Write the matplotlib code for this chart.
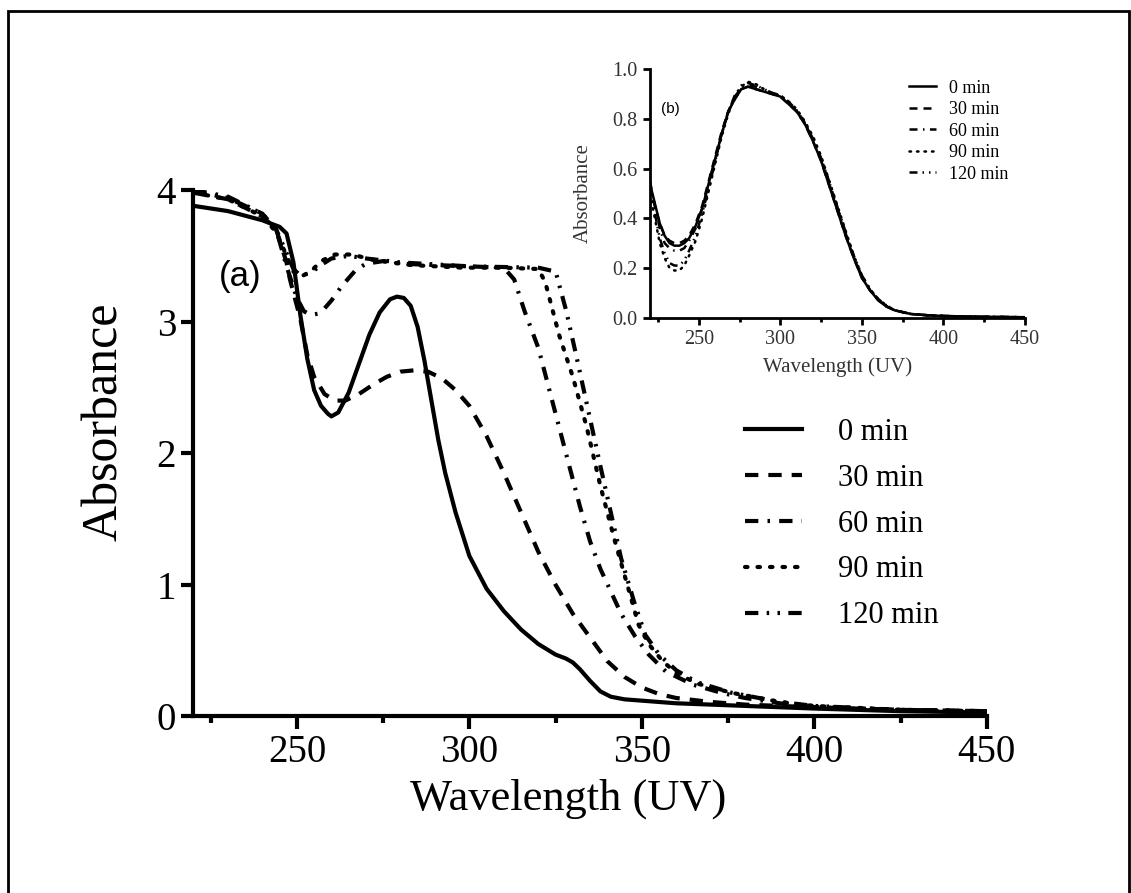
import matplotlib.pyplot as plt
from matplotlib.patches import Rectangle
from matplotlib.ticker import MultipleLocator

# ---------------- main panel (a) data ----------------
wl0 = [220, 230, 240, 245, 247, 249, 251, 253, 255, 257, 259, 260, 262, 265, 268, 271,
       274, 277, 279, 281, 283, 285, 287, 289, 291, 293, 296, 300, 305, 310, 315, 320,
       325, 328, 330, 332, 335, 338, 341, 345, 350, 360, 380, 400, 425, 450]
a0 = [3.88, 3.84, 3.77, 3.72, 3.67, 3.45, 3.05, 2.72, 2.48, 2.36, 2.30, 2.28, 2.31, 2.46,
      2.68, 2.90, 3.07, 3.17, 3.19, 3.18, 3.12, 2.96, 2.70, 2.40, 2.10, 1.85, 1.55, 1.22,
      0.97, 0.80, 0.66, 0.55, 0.47, 0.44, 0.41, 0.36, 0.27, 0.19, 0.15, 0.13, 0.12, 0.10,
      0.08, 0.06, 0.04, 0.03]

wl30 = [220, 230, 240, 244, 247, 248, 251, 253, 255, 258, 261, 264, 268, 272, 276, 280,
        284, 288, 292, 296, 300, 305, 310, 315, 320, 325, 330, 335, 340, 345, 350, 355,
        360, 370, 380, 400, 425, 450]
a30 = [3.98, 3.93, 3.80, 3.70, 3.45, 3.32, 3.02, 2.75, 2.58, 2.45, 2.40, 2.40, 2.45, 2.52,
       2.58, 2.62, 2.63, 2.62, 2.57, 2.48, 2.36, 2.13, 1.85, 1.55, 1.25, 1.00, 0.78, 0.60,
       0.42, 0.30, 0.22, 0.17, 0.14, 0.11, 0.09, 0.07, 0.05, 0.04]

wl60 = [220, 230, 240, 244, 247, 250, 252, 254, 256, 258, 260, 263, 267, 270, 275, 280,
        290, 300, 310, 313, 316, 320, 323, 326, 329, 332, 335, 338, 341, 344, 348, 352,
        357, 365, 373, 380, 390, 400, 425, 450]
a60 = [4.00, 3.95, 3.82, 3.70, 3.42, 3.18, 3.08, 3.05, 3.06, 3.10, 3.16, 3.27, 3.39, 3.44,
       3.46, 3.44, 3.43, 3.42, 3.41, 3.32, 3.08, 2.80, 2.50, 2.20, 1.90, 1.60, 1.33, 1.12,
       0.95, 0.78, 0.61, 0.47, 0.34, 0.24, 0.18, 0.14, 0.10, 0.07, 0.05, 0.04]

wl90 = [220, 230, 240, 244, 247, 249, 251, 254, 257, 261, 266, 272, 283, 298, 310, 320,
        322, 326, 330, 334, 338, 342, 346, 349, 352, 356, 360, 366, 376, 390, 400, 425, 450]
a90 = [3.98, 3.93, 3.80, 3.68, 3.50, 3.38, 3.34, 3.38, 3.46, 3.51, 3.51, 3.47, 3.43, 3.41,
       3.41, 3.40, 3.30, 2.90, 2.58, 2.20, 1.75, 1.35, 0.98, 0.70, 0.55, 0.42, 0.33, 0.25,
       0.18, 0.11, 0.08, 0.05, 0.04]

wl120 = [220, 230, 240, 244, 247, 249, 251, 254, 257, 260, 265, 270, 280, 300, 320, 325,
         328, 331, 335, 338, 341, 344, 348, 351, 355, 360, 366, 376, 390, 400, 425, 450]
a120 = [3.99, 3.94, 3.82, 3.70, 3.52, 3.40, 3.35, 3.37, 3.43, 3.48, 3.50, 3.48, 3.45, 3.42,
        3.41, 3.38, 3.09, 2.74, 2.26, 1.90, 1.55, 1.20, 0.85, 0.62, 0.47, 0.35, 0.26, 0.18,
        0.11, 0.08, 0.05, 0.04]

# ---------------- inset (b) data ----------------
wlb = [220, 223, 226, 229, 232, 235, 238, 241, 244, 248, 252, 256, 260, 264, 268, 272, 276,
       280, 285, 290, 295, 300, 305, 310, 315, 320, 325, 330, 335, 340, 345, 350, 355, 360,
       365, 370, 380, 390, 400, 420, 450]
b0 = [0.54, 0.46, 0.38, 0.33, 0.30, 0.29, 0.29, 0.30, 0.32, 0.37, 0.44, 0.54, 0.64, 0.74,
      0.83, 0.88, 0.92, 0.93, 0.92, 0.91, 0.90, 0.89, 0.86, 0.83, 0.78, 0.71, 0.63, 0.53,
      0.43, 0.33, 0.24, 0.16, 0.11, 0.07, 0.045, 0.03, 0.015, 0.01, 0.007, 0.004, 0.002]
b30 = [0.53, 0.45, 0.38, 0.33, 0.31, 0.30, 0.30, 0.31, 0.33, 0.38, 0.45, 0.55, 0.65, 0.75,
       0.83, 0.88, 0.92, 0.93, 0.92, 0.91, 0.90, 0.89, 0.86, 0.83, 0.78, 0.71, 0.63, 0.53,
       0.43, 0.33, 0.24, 0.16, 0.11, 0.07, 0.045, 0.03, 0.015, 0.01, 0.007, 0.004, 0.002]
b60 = [0.55, 0.45, 0.36, 0.30, 0.28, 0.27, 0.27, 0.28, 0.31, 0.36, 0.44, 0.54, 0.64, 0.74,
       0.83, 0.89, 0.925, 0.935, 0.93, 0.915, 0.905, 0.895, 0.87, 0.835, 0.785, 0.72, 0.64,
       0.545, 0.44, 0.34, 0.245, 0.165, 0.11, 0.072, 0.047, 0.03, 0.015, 0.01, 0.007, 0.004,
       0.002]
b90 = [0.50, 0.40, 0.30, 0.24, 0.20, 0.19, 0.19, 0.21, 0.25, 0.31, 0.40, 0.51, 0.62, 0.73,
       0.82, 0.89, 0.93, 0.95, 0.94, 0.92, 0.905, 0.895, 0.87, 0.84, 0.79, 0.73, 0.65, 0.55,
       0.45, 0.35, 0.25, 0.17, 0.115, 0.075, 0.05, 0.03, 0.015, 0.01, 0.007, 0.004, 0.002]
b120 = [0.52, 0.42, 0.32, 0.26, 0.22, 0.21, 0.21, 0.23, 0.27, 0.33, 0.42, 0.52, 0.63, 0.74,
        0.83, 0.895, 0.935, 0.945, 0.935, 0.92, 0.905, 0.89, 0.865, 0.83, 0.78, 0.72, 0.64,
        0.545, 0.445, 0.345, 0.25, 0.17, 0.115, 0.075, 0.05, 0.03, 0.015, 0.01, 0.007, 0.004,
        0.002]

labels = ['0 min', '30 min', '60 min', '90 min', '120 min']

# line styles (dash patterns in linewidth units)
styles = [
    dict(linestyle='-'),
    dict(linestyle=(0, (3.2, 2.4))),
    dict(linestyle=(0, (3.2, 2.2, 0.6, 2.2))),
    dict(linestyle=(0, (0.6, 2.4)), dash_capstyle='round'),
    dict(linestyle=(0, (3.2, 2.0, 0.6, 2.0, 0.6, 2.0))),
]

serif = 'Liberation Serif'
sans = 'Liberation Sans'

fig = plt.figure(figsize=(11.31, 8.93), dpi=100)

# outer frame around the figure
fig.patches.append(Rectangle((0.0071, -0.02), 0.991, 1.0077, transform=fig.transFigure,
                             fill=False, lw=2, ec='black'))

# ---------------- main axes ----------------
ax = fig.add_axes([0.171, 0.1977, 0.7015, 0.5895])
main_x = [wl0, wl30, wl60, wl90, wl120]
main_y = [a0, a30, a60, a90, a120]
for x, y, lab, st in zip(main_x, main_y, labels, styles):
    ax.plot(x, y, color='black', lw=3, label=lab, **st)

ax.set_xlim(220, 450)
ax.set_ylim(0, 4)
ax.xaxis.set_major_locator(MultipleLocator(50))
ax.xaxis.set_minor_locator(MultipleLocator(25))
ax.yaxis.set_major_locator(MultipleLocator(1))
for s in ['top', 'right']:
    ax.spines[s].set_visible(False)
for s in ['left', 'bottom']:
    ax.spines[s].set_linewidth(3)
ax.tick_params(axis='both', which='major', length=9, width=3, direction='out')
ax.tick_params(axis='x', which='minor', length=5, width=3, direction='out')
for t in ax.get_xticklabels() + ax.get_yticklabels():
    t.set_fontfamily(serif)
    t.set_fontsize(28)
ax.set_xlabel('Wavelength (UV)', fontsize=32, family=serif)
ax.xaxis.set_label_coords(0.472, -0.117)
ax.set_ylabel('Absorbance', fontsize=36, family=serif)
ax.yaxis.set_label_coords(-0.083, 0.559)
ax.text(233.5, 3.34, '(a)', fontsize=25, family=sans, ha='center', va='center')

ax.legend(loc='upper left', bbox_to_anchor=(0.676, 0.596), frameon=False, borderpad=0,
          prop={'family': serif, 'size': 22}, handlelength=1.85, handletextpad=1.2,
          labelspacing=0.55)

# ---------------- inset axes ----------------
axb = fig.add_axes([0.5747, 0.6442, 0.3316, 0.2782])
inset_y = [b0, b30, b60, b90, b120]
for y, lab, st in zip(inset_y, labels, styles):
    axb.plot(wlb, y, color='black', lw=1.8, label=lab, **st)
axb.set_xlim(220, 450)
axb.set_ylim(0, 1.0)
axb.xaxis.set_major_locator(MultipleLocator(50))
axb.xaxis.set_minor_locator(MultipleLocator(25))
axb.yaxis.set_major_locator(MultipleLocator(0.2))
axb.yaxis.set_major_formatter(plt.FormatStrFormatter('%.1f'))
for s in ['top', 'right']:
    axb.spines[s].set_visible(False)
for s in ['left', 'bottom']:
    axb.spines[s].set_linewidth(2)
axb.tick_params(axis='both', which='major', length=5, width=2, direction='out', pad=4)
axb.tick_params(axis='x', which='minor', length=3, width=2, direction='out')
for t in axb.get_xticklabels() + axb.get_yticklabels():
    t.set_fontfamily(serif)
    t.set_fontsize(14.5)
    t.set_color('#333333')
axb.set_xlabel('Wavelength (UV)', fontsize=15, family=serif, color='#333333', labelpad=6)
axb.set_ylabel('Absorbance', fontsize=15, family=serif, color='#333333', labelpad=14)
axb.text(232.7, 0.84, '(b)', fontsize=11, family=sans, ha='center', va='center')
axb.legend(loc='upper left', bbox_to_anchor=(0.666, 0.995), frameon=False, borderpad=0,
           prop={'family': serif, 'size': 13}, handlelength=1.5, handletextpad=0.75,
           labelspacing=0.25)

fig.savefig('out.png', dpi=100)
